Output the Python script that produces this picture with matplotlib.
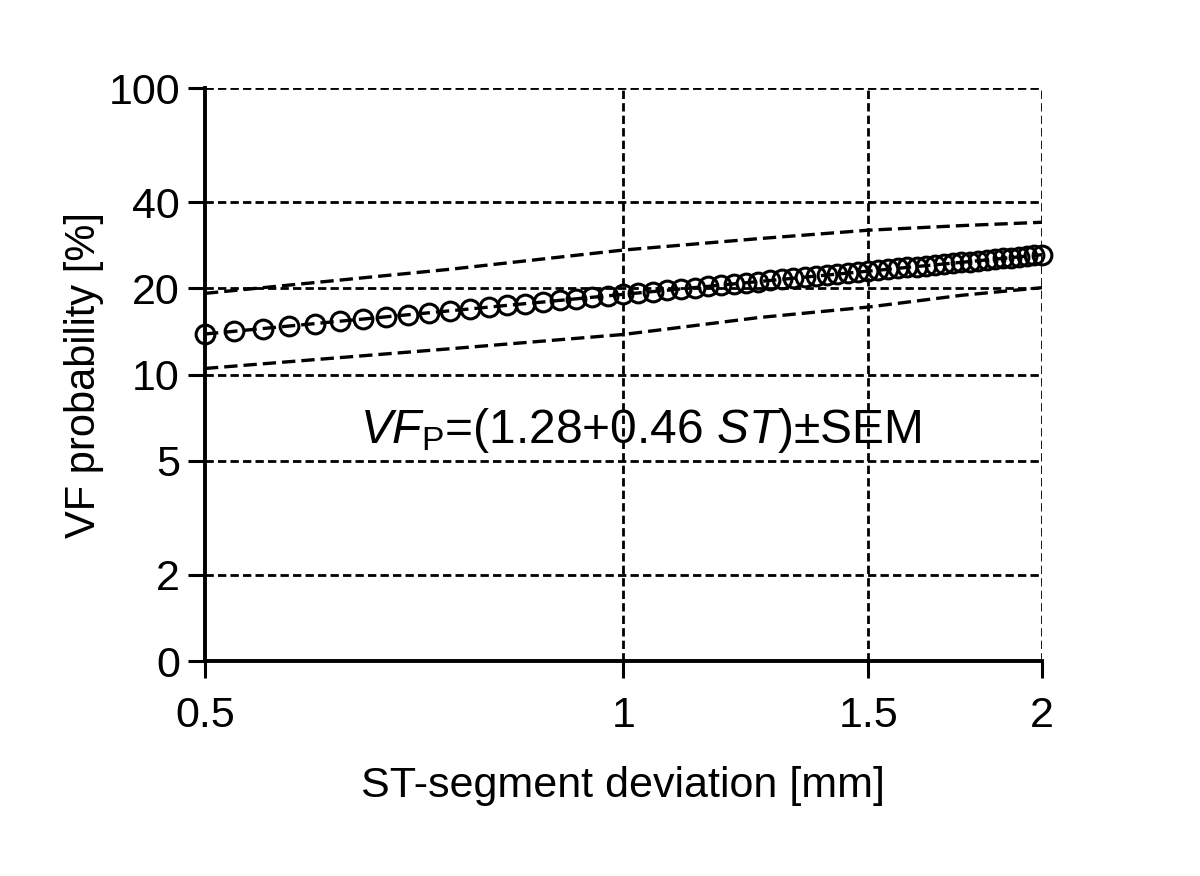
import numpy as np
import matplotlib
matplotlib.use("Agg")
import matplotlib.pyplot as plt
from matplotlib.ticker import FixedLocator, FixedFormatter, NullLocator

plt.rcParams['font.family'] = ['Liberation Sans', 'DejaVu Sans']
plt.rcParams['mathtext.fontset'] = 'custom'
plt.rcParams['mathtext.rm'] = 'Liberation Sans'
plt.rcParams['mathtext.it'] = 'Liberation Sans:italic'

# ST-segment deviation [mm] and VF probability [%]
st_dev = [0.5, 0.525, 0.55, 0.575, 0.6, 0.625, 0.65, 0.675, 0.7, 0.725,
          0.75, 0.775, 0.8, 0.825, 0.85, 0.875, 0.9, 0.925, 0.95, 0.975,
          1.0, 1.025, 1.05, 1.075, 1.1, 1.125, 1.15, 1.175, 1.2, 1.225,
          1.25, 1.275, 1.3, 1.325, 1.35, 1.375, 1.4, 1.425, 1.45, 1.475,
          1.5, 1.525, 1.55, 1.575, 1.6, 1.625, 1.65, 1.675, 1.7, 1.725,
          1.75, 1.775, 1.8, 1.825, 1.85, 1.875, 1.9, 1.925, 1.95, 1.975, 2.0]
vf_prob = [13.85, 14.16, 14.47, 14.77, 15.06, 15.35, 15.62, 15.90, 16.17, 16.43,
           16.69, 16.94, 17.19, 17.44, 17.68, 17.91, 18.15, 18.38, 18.61, 18.83,
           19.05, 19.27, 19.48, 19.69, 19.90, 20.11, 20.31, 20.52, 20.72, 20.91,
           21.11, 21.30, 21.49, 21.68, 21.87, 22.06, 22.24, 22.42, 22.60, 22.78,
           22.96, 23.13, 23.31, 23.48, 23.65, 23.82, 23.99, 24.15, 24.32, 24.48,
           24.64, 24.80, 24.97, 25.12, 25.28, 25.44, 25.59, 25.75, 25.90, 26.05, 26.20]

# SEM band
band_x = [0.5, 0.75, 1.0, 1.25, 1.5, 1.75, 2.0]
band_upper = [19.2, 23.3, 27.2, 29.8, 31.9, 33.1, 34.0]
band_lower = [10.5, 12.3, 13.8, 15.8, 17.2, 18.9, 20.1]

x_ticks = [0.5, 1, 1.5, 2]
x_ticklabels = ["0.5", "1", "1.5", "2"]
y_ticks = [1, 2, 5, 10, 20, 40, 100]
y_ticklabels = ["0", "2", "5", "10", "20", "40", "100"]

fig = plt.figure(figsize=(12, 8.76), dpi=100)
ax = fig.add_axes([0.1708, 0.2454, 0.8683 - 0.1708, 0.8995 - 0.2454])
ax.set_xscale("log")
ax.set_yscale("log")
ax.set_xlim(0.5, 2)
ax.set_ylim(1, 100)

# dashed grid
grid_ls = (0, (3, 1.5))
for xv in x_ticks[1:]:
    ax.axvline(xv, color="black", lw=2.0, ls=grid_ls, zorder=1)
for yv in y_ticks[1:]:
    ax.axhline(yv, color="black", lw=2.0, ls=grid_ls, zorder=1)

line_ls = (0, (4, 1.8))
ax.plot(band_x, band_upper, color="black", lw=2.4, ls=line_ls, zorder=2)
ax.plot(band_x, band_lower, color="black", lw=2.4, ls=line_ls, zorder=2)
ax.plot(st_dev, vf_prob, color="black", lw=2.4, ls=line_ls,
        marker="o", markersize=13.5, markerfacecolor="none",
        markeredgecolor="black", markeredgewidth=2.2, clip_on=False, zorder=3)

ax.xaxis.set_major_locator(FixedLocator(x_ticks))
ax.xaxis.set_major_formatter(FixedFormatter(x_ticklabels))
ax.xaxis.set_minor_locator(NullLocator())
ax.yaxis.set_major_locator(FixedLocator(y_ticks))
ax.yaxis.set_major_formatter(FixedFormatter(y_ticklabels))
ax.yaxis.set_minor_locator(NullLocator())

for side in ["top", "right"]:
    ax.spines[side].set_visible(False)
for side in ["left", "bottom"]:
    ax.spines[side].set_linewidth(2.8)
ax.tick_params(axis="both", direction="out", length=12, width=2.2,
               labelsize=31)
ax.tick_params(axis="x", pad=13)
ax.tick_params(axis="y", pad=6)

ax.set_xlabel("ST-segment deviation [mm]", fontsize=31, labelpad=22)
ax.set_ylabel("VF probability [%]", fontsize=30, labelpad=3)

ax.text(0.185, 0.38, r"$\mathit{VF}_{\mathrm{P}}$=(1.28+0.46 $\mathit{ST}$)±SEM",
        transform=ax.transAxes, fontsize=34.5, ha="left", va="baseline")

fig.savefig("out.png", dpi=100, facecolor="white")
